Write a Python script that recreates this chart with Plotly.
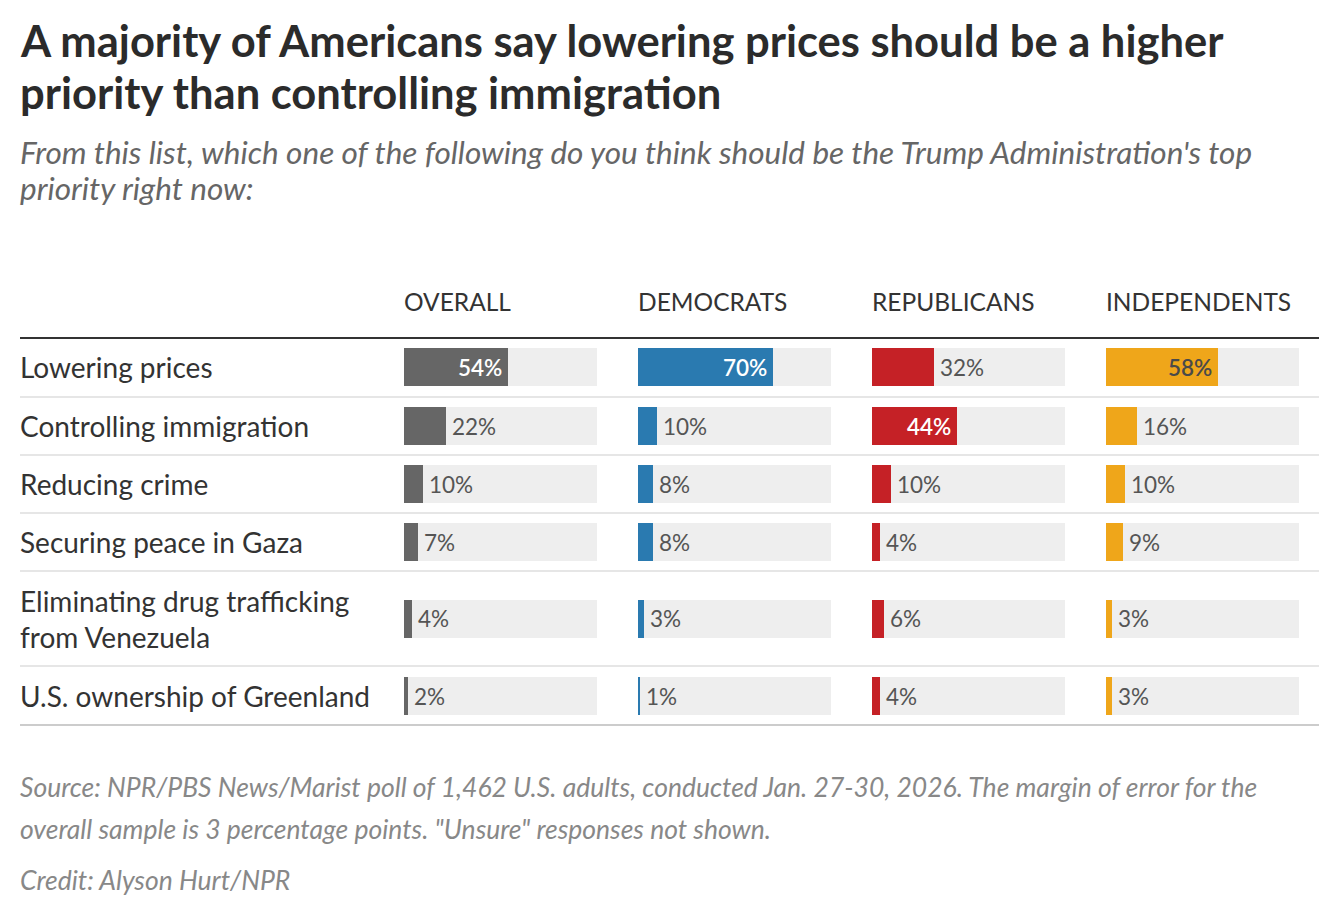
import plotly.graph_objects as go

# ---------------- data ----------------
categories = [
    "Lowering prices",
    "Controlling immigration",
    "Reducing crime",
    "Securing peace in Gaza",
    "Eliminating drug trafficking<br>from Venezuela",
    "U.S. ownership of Greenland",
]
groups = ["OVERALL", "DEMOCRATS", "REPUBLICANS", "INDEPENDENTS"]
overall = [54, 22, 10, 7, 4, 2]
democrats = [70, 10, 8, 8, 3, 1]
republicans = [32, 44, 10, 4, 6, 4]
independents = [58, 16, 10, 9, 3, 3]

title_lines = ["A majority of Americans say lowering prices should be a higher",
               "priority than controlling immigration"]
subtitle_lines = ["From this list, which one of the following do you think should be the Trump Administration's top",
                  "priority right now:"]
source_lines = ["Source: NPR/PBS News/Marist poll of 1,462 U.S. adults, conducted Jan. 27-30, 2026. The margin of error for the",
                "overall sample is 3 percentage points. \"Unsure\" responses not shown."]
credit = "Credit: Alyson Hurt/NPR"

# ---------------- style / layout ----------------
W, H = 1330, 914
FONT = "Lato"
colors = ["#666666", "#2a7ab0", "#c52126", "#efa61a"]
inside_text_colors = ["#ffffff", "#ffffff", "#ffffff", "#4a4a4a"]
outside_text_color = "#555555"
bg_bar = "#eeeeee"
INSIDE_MIN = 40

col_left = [404, 638, 872, 1106]
col_w = 193
table_top, table_bottom = 337, 726
line_h = 37
base_row_h = 58
bar_h = 38
left_x = 20
right_x = 1319

series = [overall, democrats, republicans, independents]

# row geometry derived from number of label lines
row_h = [base_row_h + line_h * (c.count("<br>")) for c in categories]
extra = (table_bottom - table_top) - sum(row_h)
row_h[0] += extra / 2
row_h[-1] += extra / 2
bounds = [0]
for h in row_h:
    bounds.append(bounds[-1] + h)
centers = [(bounds[i] + bounds[i + 1]) / 2 for i in range(len(categories))]
total = bounds[-1]


def px(x):
    return x / W


def py(y):
    return 1 - y / H


fig = go.Figure()
ann = []
for gi, (vals, col) in enumerate(zip(series, colors)):
    xa = "x" if gi == 0 else f"x{gi+1}"
    fig.add_trace(go.Bar(
        x=[100] * len(vals), y=centers, orientation="h", width=bar_h,
        marker=dict(color=bg_bar, line=dict(width=0)), xaxis=xa, yaxis="y",
        hoverinfo="skip", showlegend=False))
    fig.add_trace(go.Bar(
        x=vals, y=centers, orientation="h", width=bar_h,
        marker=dict(color=col, line=dict(width=0)), xaxis=xa, yaxis="y",
        showlegend=False, hoverinfo="skip"))
    for v, yc in zip(vals, centers):
        inside = v >= INSIDE_MIN
        ann.append(dict(
            text=f"{v}%", x=v, y=yc, xref=xa, yref="y",
            xanchor="right" if inside else "left", yanchor="middle",
            xshift=-5 if inside else 5, showarrow=False, borderpad=0,
            font=dict(family=FONT, size=22.5,
                      color=inside_text_colors[gi] if inside else outside_text_color,
                      weight=600 if inside else 400)))

layout = dict(
    width=W, height=H, margin=dict(l=0, r=0, t=0, b=0),
    paper_bgcolor="white", plot_bgcolor="rgba(0,0,0,0)",
    barmode="overlay", bargap=0,
    font=dict(family=FONT, color="#333333"),
    yaxis=dict(domain=[py(table_bottom), py(table_top)], range=[total, 0],
               visible=False, fixedrange=True),
)
for gi in range(4):
    key = "xaxis" if gi == 0 else f"xaxis{gi+1}"
    layout[key] = dict(domain=[px(col_left[gi]), px(col_left[gi] + col_w)],
                       range=[0, 100], visible=False, fixedrange=True,
                       anchor="y")
fig.update_layout(**layout)

shapes = []
for b in bounds[1:-1]:
    shapes.append(dict(type="line", xref="paper", yref="y", x0=px(left_x), x1=px(right_x),
                       y0=b, y1=b, line=dict(color="#e6e6e6", width=2)))
shapes.append(dict(type="line", xref="paper", yref="y", x0=px(left_x), x1=px(right_x),
                   y0=0, y1=0, line=dict(color="#333333", width=4)))
shapes.append(dict(type="line", xref="paper", yref="y", x0=px(left_x), x1=px(right_x),
                   y0=total, y1=total, line=dict(color="#cccccc", width=4)))
fig.update_layout(shapes=shapes)


def text_line(t, y, size, color, bold=False, italic=False):
    return dict(text=t, x=px(left_x - 1), y=py(y), xref="paper", yref="paper",
                xanchor="left", yanchor="middle", showarrow=False, align="left",
                borderpad=0,
                font=dict(family=FONT, size=size, color=color,
                          weight=700 if bold else 400,
                          style="italic" if italic else "normal"))


for t, y in zip(title_lines, [40, 92]):
    ann.append(text_line(t, y, 43.5, "#2b2b2b", bold=True))
for t, y in zip(subtitle_lines, [152, 188]):
    ann.append(text_line(t, y, 31.5, "#666666", italic=True))
for t, y in zip(source_lines, [787, 829]):
    ann.append(text_line(t, y, 26.5, "#888888", italic=True))
ann.append(text_line(credit, 880, 26.5, "#888888", italic=True))

for gi, g in enumerate(groups):
    ann.append(dict(text=g, x=px(col_left[gi] - 1), y=py(301), xref="paper", yref="paper",
                    xanchor="left", yanchor="middle", showarrow=False, borderpad=0,
                    font=dict(family=FONT, size=24.5, color="#333333")))
for c, yc in zip(categories, centers):
    ann.append(dict(text=c, x=px(left_x - 1), y=yc, xref="paper", yref="y",
                    xanchor="left", yanchor="middle", showarrow=False, align="left",
                    borderpad=0,
                    font=dict(family=FONT, size=28, color="#333333")))
fig.update_layout(annotations=ann)

fig.write_html("out.html", config={"displayModeBar": False},
               post_script="document.body.style.margin='0';")
